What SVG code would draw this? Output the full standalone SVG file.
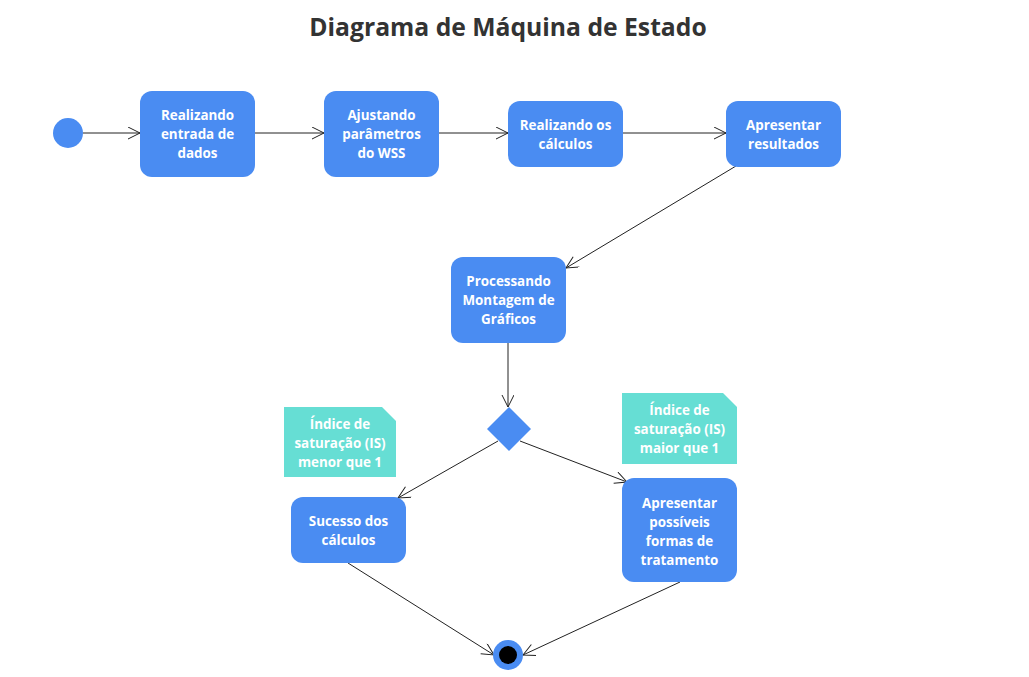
<svg xmlns="http://www.w3.org/2000/svg" width="1029" height="677" viewBox="0 0 1029 677">
<style>
.n{fill:#4a8cf2}
.note{fill:#66ded4}
.t{font-family:"Open Sans","Noto Sans",sans-serif;font-weight:bold;font-size:13.4px;fill:#fff;text-anchor:middle}
.e{stroke:#222;stroke-width:1;fill:none;marker-end:url(#a)}
.title{font-family:"Open Sans","Noto Sans",sans-serif;font-weight:bold;font-size:24.7px;fill:#333;text-anchor:middle}
</style>
<defs>
<marker id="a" markerWidth="14" markerHeight="14" refX="13" refY="6" orient="auto" markerUnits="userSpaceOnUse">
<path d="M1,0 L13,6 L1,12" fill="none" stroke="#222" stroke-width="1"/>
</marker>
</defs>
<rect width="1029" height="677" fill="#fff"/>
<text class="title" x="508" y="36">Diagrama de Máquina de Estado</text>
<g id="connectors">
<line class="e" x1="83" y1="133" x2="140" y2="133"/>
<line class="e" x1="255" y1="133" x2="324" y2="133"/>
<line class="e" x1="439" y1="133" x2="508" y2="133"/>
<line class="e" x1="623" y1="133" x2="726" y2="133"/>
<line class="e" x1="736" y1="166" x2="566" y2="268"/>
<line class="e" x1="508" y1="343" x2="508" y2="407"/>
<line class="e" x1="498" y1="441" x2="398" y2="498"/>
<line class="e" x1="520" y1="441" x2="627" y2="482"/>
<line class="e" x1="348" y1="563" x2="494" y2="655"/>
<line class="e" x1="680" y1="582" x2="523" y2="655"/>
</g>
<g id="start"><circle class="n" cx="68" cy="133" r="15"/></g>
<g id="n1"><rect class="n" x="140" y="91" width="115" height="86" rx="12"/>
<text class="t" x="197.5" y="120">Realizando</text><text class="t" x="197.5" y="139">entrada de</text><text class="t" x="197.5" y="158">dados</text></g>
<g id="n2"><rect class="n" x="324" y="91" width="115" height="86" rx="12"/>
<text class="t" x="381.5" y="120">Ajustando</text><text class="t" x="381.5" y="139">parâmetros</text><text class="t" x="381.5" y="158">do WSS</text></g>
<g id="n3"><rect class="n" x="508" y="101" width="115" height="66" rx="12"/>
<text class="t" x="565.5" y="130">Realizando os</text><text class="t" x="565.5" y="149">cálculos</text></g>
<g id="n4"><rect class="n" x="726" y="101" width="115" height="66" rx="12"/>
<text class="t" x="783.5" y="130">Apresentar</text><text class="t" x="783.5" y="149">resultados</text></g>
<g id="n5"><rect class="n" x="451" y="257" width="115" height="86" rx="12"/>
<text class="t" x="508.5" y="286">Processando</text><text class="t" x="508.5" y="305">Montagem de</text><text class="t" x="508.5" y="324">Gráficos</text></g>
<g id="decision"><polygon class="n" points="509,407 531,429 509,451 487,429"/></g>
<g id="note1"><path class="note" d="M284,407 H382 L396,421 V477 H284 Z"/>
<text class="t" x="340" y="429">Índice de</text><text class="t" x="340" y="448">saturação (IS)</text><text class="t" x="340" y="467">menor que 1</text></g>
<g id="note2"><path class="note" d="M622,393 H723 L737,407 V464 H622 Z"/>
<text class="t" x="679.5" y="415">Índice de</text><text class="t" x="679.5" y="434">saturação (IS)</text><text class="t" x="679.5" y="453">maior que 1</text></g>
<g id="n6"><rect class="n" x="291" y="497" width="115" height="66" rx="12"/>
<text class="t" x="348.5" y="526">Sucesso dos</text><text class="t" x="348.5" y="545">cálculos</text></g>
<g id="n7"><rect class="n" x="622" y="478" width="115" height="104" rx="12"/>
<text class="t" x="679.5" y="508">Apresentar</text><text class="t" x="679.5" y="527">possíveis</text><text class="t" x="679.5" y="546">formas de</text><text class="t" x="679.5" y="565">tratamento</text></g>
<g id="end"><circle class="n" cx="508" cy="655" r="15"/><circle cx="508" cy="655" r="9" fill="#000"/></g>
</svg>
